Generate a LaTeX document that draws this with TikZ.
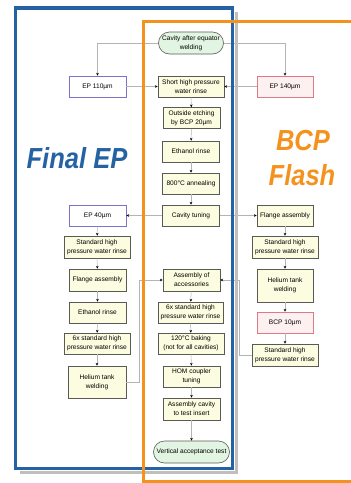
\documentclass[tikz,border=0pt]{standalone}
\usepackage{graphicx}
\usepackage{fontspec}
\setmainfont{Liberation Sans}
\usetikzlibrary{arrows.meta,shapes.misc,calc}
\definecolor{frameblue}{HTML}{2462A3}
\definecolor{frameorange}{HTML}{F5921E}
\definecolor{procfill}{HTML}{FCFCE0}
\definecolor{procdraw}{HTML}{5A5A55}
\definecolor{termfill}{HTML}{E2F5E2}
\definecolor{epblue}{HTML}{7A74C8}
\definecolor{eppink}{HTML}{DC7A86}
\definecolor{pinkfill}{HTML}{FDF0F0}
\definecolor{connline}{HTML}{B4B4B4}
\newcommand{\narrowtitle}[1]{\scalebox{0.88}[1]{#1}}
\tikzset{
  proc/.style={draw=procdraw, fill=procfill, line width=0.6pt, align=center,
    font=\fontsize{6.6}{8.8}\selectfont, inner sep=0.5pt, minimum width=57pt, minimum height=21pt},
  term/.style={proc, rounded rectangle, fill=termfill, minimum height=22pt},
  epbox/.style={proc, draw=epblue, fill=white},
  bcpbox/.style={proc, draw=eppink, fill=pinkfill},
  conn/.style={draw=connline, line width=0.5pt, -{Stealth[length=2.8pt,width=2.6pt,color=black]}},
  bigtitle/.style={font=\fontsize{29}{30}\selectfont\bfseries\itshape, inner sep=0pt, anchor=base}
}
\begin{document}
\begin{tikzpicture}[x=1pt,y=-1pt]
\useasboundingbox (0,0) rectangle (351,483);
\clip (0,0) rectangle (351,483);
% nodes
\node[term, minimum width=66pt] (cav) at (191,43) {Cavity after equator\\welding};
\node[epbox] (ep110) at (97.5,86.5) {EP 110µm};
\node[proc, minimum width=66pt] (shpr) at (191,86.5) {Short high pressure\\water rinse};
\node[bcpbox, minimum width=56pt] (ep140) at (285,86.5) {EP 140µm};
\node[proc] (oe) at (191.5,118) {Outside etching\\by BCP 20µm};
\node[proc] (eth) at (191,151.5) {Ethanol rinse};
\node[proc] (ann) at (191,183.5) {800°C annealing};
\node[proc] (tun) at (191,215.5) {Cavity tuning};
\node[epbox] (ep40) at (97.5,215.5) {EP 40µm};
\node[proc, minimum width=56pt] (flR) at (285,215.5) {Flange assembly};
\node[proc, minimum width=66pt, minimum height=22pt] (shL) at (97,247) {Standard high\\pressure water rinse};
\node[proc, minimum width=66pt, minimum height=22pt] (shR) at (285,247) {Standard high\\pressure water rinse};
\node[proc, minimum height=22pt] (flL) at (97.5,280) {Flange assembly};
\node[proc, minimum height=22pt] (acc) at (191.5,280) {Assembly of\\accessories};
\node[proc, minimum width=56pt, minimum height=33pt] (heR) at (285,285.5) {Helium tank\\welding};
\node[proc] (ethL) at (97.5,312.5) {Ethanol rinse};
\node[proc, minimum width=65pt] (six) at (190.5,312.5) {6x standard high\\pressure water rinse};
\node[bcpbox, minimum width=56pt] (bcp) at (285,322.5) {BCP 10µm};
\node[proc, minimum width=66pt] (sixL) at (97,343.5) {6x standard high\\pressure water rinse};
\node[proc, minimum width=66pt] (bak) at (191,343.5) {120°C baking\\(not for all cavities)};
\node[proc, minimum width=66pt, minimum height=22pt] (shR2) at (285,355) {Standard high\\pressure water rinse};
\node[proc, minimum width=58pt, minimum height=32pt] (heL) at (97,382) {Helium tank\\welding};
\node[proc] (hom) at (191.5,376.5) {HOM coupler\\tuning};
\node[proc, minimum height=22pt] (aci) at (191.5,409) {Assembly cavity\\to test insert};
\node[term, minimum width=77pt] (vat) at (191.5,452) {Vertical acceptance test};
\coordinate (jl) at (139,382);
\coordinate (jr) at (239,355);
% connectors
\draw[conn] (cav.west) -| (ep110.north);
\draw[conn] (cav.east) -| (ep140.north);
\draw[conn] (ep110.east) -- (shpr.west);
\draw[conn] (ep140.west) -- (shpr.east);
\draw[conn] (shpr) -- (oe);
\draw[conn] (oe) -- (eth);
\draw[conn] (eth) -- (ann);
\draw[conn] (ann) -- (tun);
\draw[conn] (tun.west) -- (ep40.east);
\draw[conn] (tun.east) -- (flR.west);
\draw[conn] (ep40) -- (shL);
\draw[conn] (shL) -- (flL);
\draw[conn] (flL) -- (ethL);
\draw[conn] (ethL) -- (sixL);
\draw[conn] (sixL) -- (heL);
\draw[conn] (heL.east) -- (jl) |- (acc.west);
\draw[conn] (flR) -- (shR);
\draw[conn] (shR) -- (heR);
\draw[conn] (heR) -- (bcp);
\draw[conn] (bcp) -- (shR2);
\draw[conn] (shR2.west) -- (jr) |- (acc.east);
\draw[conn] (acc) -- (six);
\draw[conn] (six) -- (bak);
\draw[conn] (bak) -- (hom);
\draw[conn] (hom) -- (aci);
\draw[conn] (aci) -- (vat);
% frames
\draw[black!25, line width=3pt] (20,472.5) -- (236.5,472.5) -- (236.5,12);
\draw[frameblue, line width=3.8pt] (15.5,8) rectangle (232.5,468.5);
\draw[frameorange, line width=3pt] (143,21) rectangle (365,481);
% titles
\node[bigtitle, text=frameblue] (tfinal) at (77,168) {\narrowtitle{Final EP}};
\node[bigtitle, text=frameorange] (tbcp) at (303,150) {\narrowtitle{BCP}};
\node[bigtitle, text=frameorange] (tflash) at (302,185) {\narrowtitle{Flash}};
\end{tikzpicture}
\end{document}
